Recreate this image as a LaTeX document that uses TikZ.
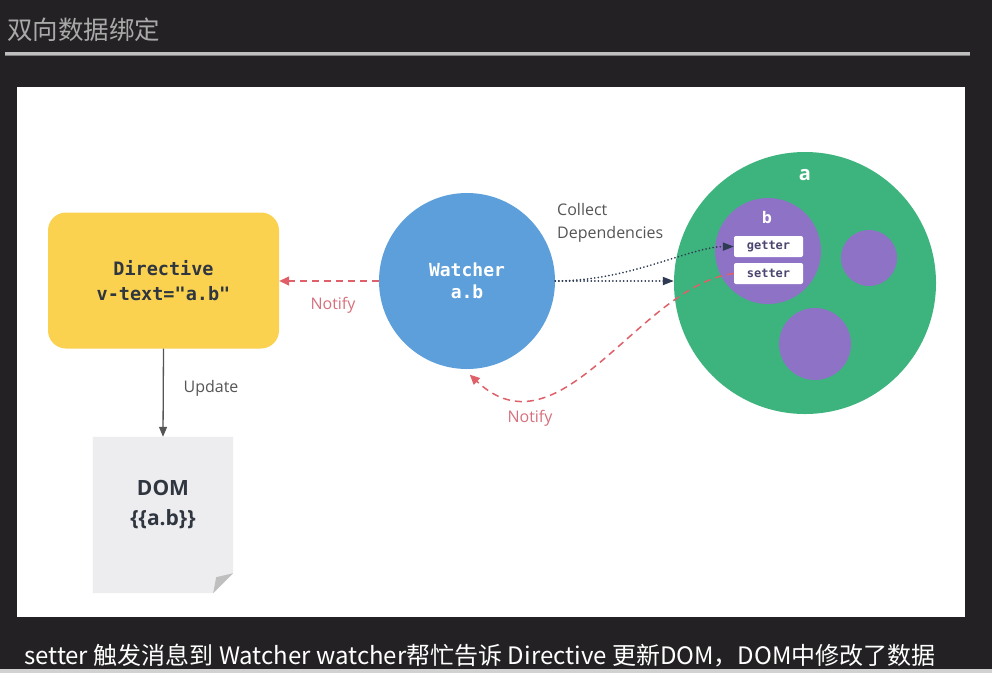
\documentclass[tikz,border=0pt]{standalone}
\usepackage{fontspec}
\setmainfont{Open Sans}
\newfontfamily\cjk{Noto Sans CJK SC}
\newfontfamily\mono{DejaVu Sans Mono}
\usetikzlibrary{arrows.meta}
\definecolor{bgdark}{HTML}{232123}
\definecolor{titlegray}{HTML}{A9A9A9}
\definecolor{yellowbox}{HTML}{FAD250}
\definecolor{bluew}{HTML}{5D9FDB}
\definecolor{greena}{HTML}{3DB47D}
\definecolor{purpleb}{HTML}{8E72C6}
\definecolor{redn}{HTML}{DF6068}
\definecolor{rednt}{HTML}{D7707C}
\definecolor{navydot}{HTML}{2E3B52}
\definecolor{graylbl}{HTML}{555555}
\definecolor{domfill}{HTML}{EDEDF0}
\definecolor{domtext}{HTML}{2F3640}
\definecolor{gsText}{HTML}{4A4670}
\tikzset{
  lbl/.style={font=\fontsize{16}{23}\selectfont, text=graylbl, inner sep=0pt},
  notifyline/.style={draw=redn, line width=1.5pt, dash pattern=on 7pt off 5pt, -{Triangle[length=10pt,width=9pt]}},
  depline/.style={draw=navydot, line width=1.8pt, line cap=round, dash pattern=on 0.1pt off 3.5pt, -{Triangle[length=11pt,width=8pt]}},
  gsbox/.style={rectangle, fill=white, rounded corners=2pt, minimum width=69pt, minimum height=21pt, inner sep=0pt, text=gsText, font=\mono\bfseries\fontsize{12}{12}\selectfont},
  ball/.style={circle, inner sep=0pt, fill=purpleb},
}
\begin{document}
\begin{tikzpicture}[x=1pt,y=-1pt]
\useasboundingbox (0,0) rectangle (992,673);
\fill[bgdark] (0,0) rectangle (992,673);
\fill[white] (17,87) rectangle (965,617);
\fill[black!18] (0,669) rectangle (992,673);
% title
\node[anchor=west, inner sep=0pt, text=titlegray, font=\cjk\fontsize{25.5}{25.5}\selectfont] (title) at (7,30) {双向数据绑定};
\coordinate (lineL) at (5,53);
\coordinate (lineR) at (970,53);
\draw[line width=3pt, black!25] (lineL) -- (lineR);
\draw[line width=1pt, black!50] ([yshift=-2pt]lineL) -- ([yshift=-2pt]lineR);
% directive
\node[rectangle, rounded corners=18pt, fill=yellowbox, minimum width=231pt, minimum height=136pt, inner sep=0pt,
      align=center, text=domtext, font=\mono\bfseries\fontsize{18.5}{25}\selectfont] (dir) at (163.5,280.5) {Directive\\v-text="a.b"};
% watcher
\node[circle, fill=bluew, minimum size=176pt, inner sep=0pt, align=center, text=white,
      font=\mono\bfseries\fontsize{18}{22}\selectfont] (watch) at (467,281) {Watcher\\a.b};
% object a
\node[circle, fill=greena, minimum size=262pt, inner sep=0pt] (green) at (805,283) {};
\node[text=white, font=\bfseries\fontsize{20}{20}\selectfont, inner sep=0pt] (alabel) at (805,175) {a};
\node[ball, minimum size=106pt] (bball) at (768,251) {};
\node[text=white, font=\bfseries\fontsize{16}{16}\selectfont, inner sep=0pt] (blabel) at (767,217) {b};
\node[gsbox] (getter) at (768.5,246.5) {getter};
\node[gsbox] (setter) at (768.5,273.5) {setter};
\node[ball, minimum size=56pt] (ball2) at (869,258) {};
\node[ball, minimum size=72pt] (ball3) at (815,344) {};
% DOM
\node[minimum width=140pt, minimum height=156pt, inner sep=0pt] (dom) at (163,515) {};
\fill[domfill] (dom.north west) -- (dom.north east) -- ([yshift=20pt]dom.south east)
   -- ([xshift=-20pt]dom.south east) -- (dom.south west) -- cycle;
\fill[black!25] ([yshift=20pt]dom.south east) -- ([xshift=-20pt]dom.south east) -- ([xshift=-17pt,yshift=16pt]dom.south east) -- cycle;
\node[align=center, text=domtext, font=\bfseries\fontsize{21}{30}\selectfont, inner sep=0pt] (domlabel) at (163,505) {DOM\\\{\{a.b\}\}};
% connectors
\draw[notifyline] (watch.west) -- (watch.west -| dir.east);
\node[lbl, text=rednt] (n1) at (333,305) {Notify};
\draw[depline] (watch.east) -- (watch.east -| green.west);
\draw[depline] (watch.east) .. controls (630,281) and (690,247) .. (getter.west);
\node[lbl, anchor=north west, align=left] (collect) at (557,203) {Collect\\Dependencies};
\draw[notifyline, shorten >=8pt] (setter.west) .. controls (640,285) and (560,460) .. (watch.-92);
\node[lbl, text=rednt] (n2) at (530,418) {Notify};
\draw[draw=graylbl, line width=1.3pt, -{Triangle[length=10pt,width=8pt]}] (dir.south) -- (dom.north);
\node[lbl] (upd) at (211,388) {Update};
% subtitle
\node[anchor=west, inner sep=0pt, text=white, font=\cjk\fontsize{24}{24}\selectfont] (sub) at (24,656) {setter 触发消息到 Watcher watcher帮忙告诉 Directive 更新DOM，DOM中修改了数据};
\end{tikzpicture}
\end{document}
